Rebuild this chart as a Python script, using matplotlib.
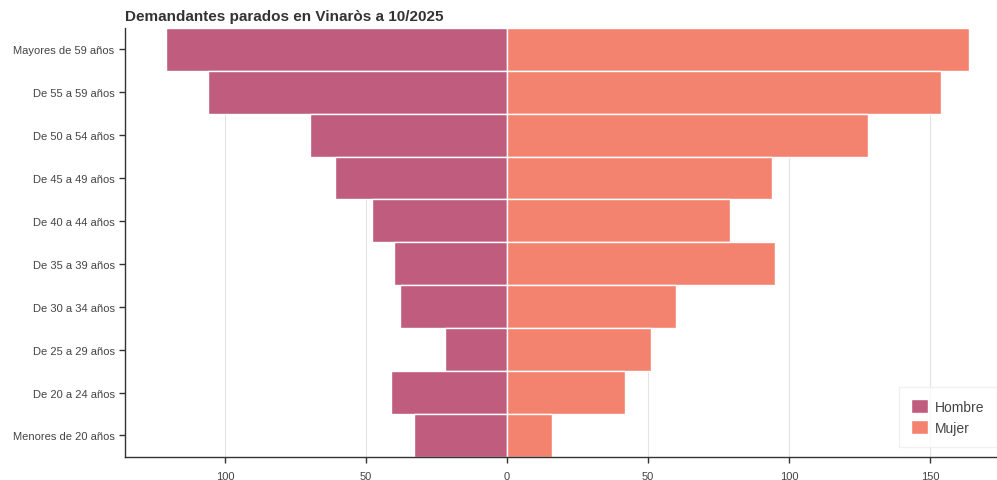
import matplotlib
matplotlib.use("Agg")
import matplotlib.pyplot as plt
from matplotlib.ticker import FuncFormatter

plt.rcParams['font.family'] = ['Liberation Sans', 'DejaVu Sans']

# data
grupos = ['Mayores de 59 años', 'De 55 a 59 años', 'De 50 a 54 años', 'De 45 a 49 años',
          'De 40 a 44 años', 'De 35 a 39 años', 'De 30 a 34 años', 'De 25 a 29 años',
          'De 20 a 24 años', 'Menores de 20 años']
hombre = [121, 106, 70, 61, 48, 40, 38, 22, 41, 33]
mujer = [164, 154, 128, 94, 79, 95, 60, 51, 42, 16]

col_h = '#c05c7e'
col_m = '#f3836f'

fig = plt.figure(figsize=(9.97, 4.81), dpi=100)
ax = fig.add_axes([0.1254, 0.048, 0.8746, 0.892])

y = list(range(len(grupos)))[::-1]
ax.barh(y, [-v for v in hombre], height=1.0, color=col_h, edgecolor='white', linewidth=1, label='Hombre', zorder=2)
ax.barh(y, mujer, height=1.0, color=col_m, edgecolor='white', linewidth=1, label='Mujer', zorder=2)

ax.set_xlim(-135.5, 173.8)
ax.set_ylim(-0.5, 9.5)
ax.set_yticks(y)
ax.set_yticklabels(grupos)
ax.set_xticks([-100, -50, 0, 50, 100, 150])
ax.xaxis.set_major_formatter(FuncFormatter(lambda v, p: '%d' % abs(v)))
ax.grid(axis='x', color='#e3e3e3', linewidth=0.8, zorder=0)
ax.set_axisbelow(True)

for s in ['top', 'right']:
    ax.spines[s].set_visible(False)
for s in ['left', 'bottom']:
    ax.spines[s].set_color('#333333')
    ax.spines[s].set_linewidth(1.0)
ax.tick_params(axis='both', colors='#333333', labelcolor='#444444', labelsize=8, length=4, width=1)
ax.tick_params(axis='x', pad=6)

ax.set_title('Demandantes parados en Vinaròs a 10/2025', loc='left', fontsize=11,
             fontweight='bold', color='#333333', pad=6)

leg = ax.legend(loc='lower right', bbox_to_anchor=(1.0, 0.022), fontsize=10, frameon=True,
                fancybox=False, handlelength=1.2, handleheight=1.2, borderpad=0.9,
                labelspacing=0.45, handletextpad=0.5, borderaxespad=0)
leg.get_frame().set_edgecolor('#eeeeee')
leg.get_frame().set_linewidth(1)
for t in leg.get_texts():
    t.set_color('#444444')

fig.savefig('out.png', dpi=100)
